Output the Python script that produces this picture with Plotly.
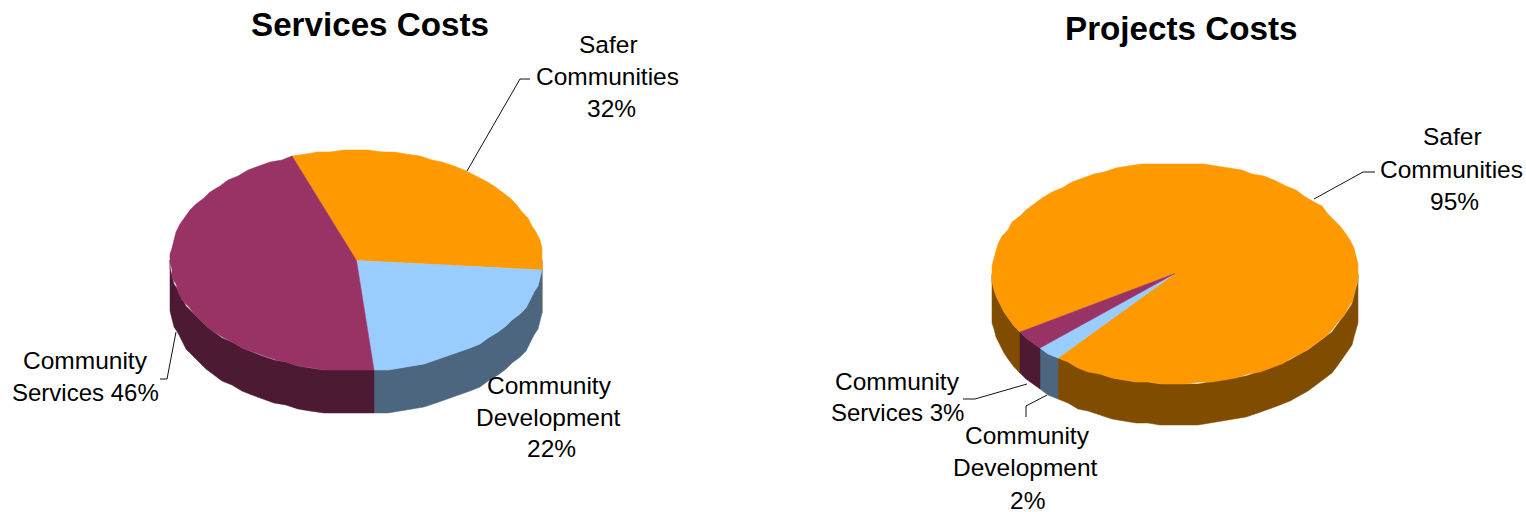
import math
import plotly.graph_objects as go

# Data
services_categories = ["Safer Communities", "Community Development", "Community Services"]
services_values = [32, 22, 46]
services_labels = [["Safer", "Communities", "32%"], ["Community", "Development", "22%"], ["Community", "Services 46%"]]
projects_categories = ["Safer Communities", "Community Development", "Community Services"]
projects_values = [95, 2, 3]
projects_labels = [["Safer", "Communities", "95%"], ["Community", "Development", "2%"], ["Community", "Services 3%"]]
top_colors = ["#FF9900", "#99CCFF", "#993366"]
wall_colors = ["#804D00", "#4D6680", "#4D1A33"]

# Layout
W, H = 1526, 512
STEP = 4.0
SNAP = 2.0   # the reference's outline is slightly stepped
LABEL_SIZE = 24.5
TITLE_SIZE = 33.2
FONT = "Liberation Sans, Arial, sans-serif"
services_label_pos = [[(608, 44), (607, 76), (611, 108)], [(549, 385), (548, 417), (551, 448)], [(85, 360), (85, 392)]]
projects_label_pos = [[(1452, 136), (1451, 169), (1454, 201)], [(1027, 435), (1025, 467), (1027, 500)], [(897, 381), (897, 412)]]


def point(cx, cy, rx, ry, deg, dy=0.0):
    a = math.radians(deg)
    x = cx + rx * math.sin(a)
    y = cy - ry * math.cos(a)
    return round(x / SNAP) * SNAP, round(y / SNAP) * SNAP + dy


def arc_angles(a0, a1):
    n = max(1, int(math.ceil((a1 - a0) / STEP)))
    return [a0 + (a1 - a0) * i / n for i in range(n + 1)]


def add_pie(fig, values, categories, cx, cy, rx, ry, depth, start):
    total = sum(values)
    spans = []
    a = start
    for v in values:
        b = a + 360.0 * v / total
        spans.append((a, b))
        a = b
    # side walls: only the part of every slice on the front half of the ellipse
    for (a0, b0), col, name in zip(spans, wall_colors, categories):
        for k in (-360, 0, 360):
            lo, hi = max(a0, 90 + k), min(b0, 270 + k)
            if hi <= lo:
                continue
            angs = arc_angles(lo, hi)
            upper = [point(cx, cy, rx, ry, t) for t in angs]
            lower = [point(cx, cy, rx, ry, t, depth) for t in reversed(angs)]
            pts = upper + lower + upper[:1]
            fig.add_trace(go.Scatter(x=[p[0] for p in pts], y=[p[1] for p in pts], mode="lines",
                                     fill="toself", fillcolor=col, line=dict(color=col, width=0.5),
                                     name=name, hoverinfo="name", showlegend=False))
    # top faces
    for (a0, b0), col, name in zip(spans, top_colors, categories):
        pts = [(cx, cy)] + [point(cx, cy, rx, ry, t) for t in arc_angles(a0, b0)] + [(cx, cy)]
        fig.add_trace(go.Scatter(x=[p[0] for p in pts], y=[p[1] for p in pts], mode="lines",
                                 fill="toself", fillcolor=col, line=dict(color=col, width=0.5),
                                 name=name, hoverinfo="name", showlegend=False))


fig = go.Figure()
add_pie(fig, services_values, services_categories, 356.5, 260.5, 186, 110.5, 43, -20)
add_pie(fig, projects_values, projects_categories, 1175, 273.5, 183, 110.5, 41, 238)

leaders = [
    "M467,171 L520,79 L530,79",
    "M176,332 L167,379 L160,379",
    "M1314,199 L1363,172 L1375,172",
    "M1027,384 L975,399 L963,399",
    "M1047,395 L1026,406 L1026,417",
]
shapes = [dict(type="path", path=p, xref="x", yref="y", line=dict(color="#111111", width=1)) for p in leaders]


def label(text, x, y, size=LABEL_SIZE, color="#000000"):
    return dict(text=text, x=x, y=y, xref="x", yref="y", showarrow=False, align="center",
                xanchor="center", yanchor="middle", font=dict(family=FONT, size=size, color=color))


annotations = [
    label("<b>Services Costs</b>", 370, 24, TITLE_SIZE),
    label("<b>Projects Costs</b>", 1181, 28, TITLE_SIZE),
]
for labels, positions in ((services_labels, services_label_pos), (projects_labels, projects_label_pos)):
    for lines, line_pos in zip(labels, positions):
        for text, (x, y) in zip(lines, line_pos):
            annotations.append(label(text, x, y, 24 if "Services" in text else LABEL_SIZE))

fig.update_layout(
    width=W, height=H, margin=dict(l=0, r=0, t=0, b=0),
    paper_bgcolor="white", plot_bgcolor="white", showlegend=False,
    xaxis=dict(range=[0, W], visible=False, fixedrange=True),
    yaxis=dict(range=[H, 0], visible=False, fixedrange=True),
    shapes=shapes, annotations=annotations,
)
fig.write_html("out.html", config=dict(displayModeBar=False),
               post_script="document.body.style.margin='0';document.body.style.overflow='hidden';")
